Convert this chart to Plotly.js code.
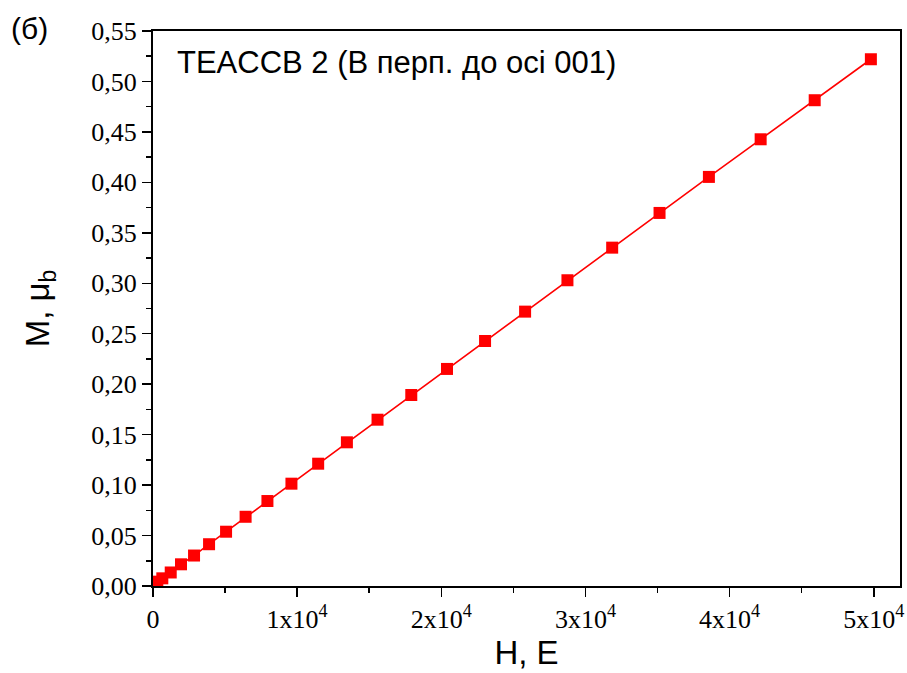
<!DOCTYPE html>
<html>
<head>
<meta charset="utf-8">
<script src="https://cdn.plot.ly/plotly-3.0.1.min.js"></script>
<style>html,body{margin:0;padding:0;background:#fff;}#chart{width:907px;height:673px;}</style>
</head>
<body>
<div id="chart"></div>
<script>
const fieldH = [300, 646, 1229, 1944, 2847, 3889, 5069, 6424, 7938, 9604, 11458, 13451, 15576, 17917, 20396, 23035, 25813, 28750, 31854, 35139, 38563, 42153, 45903, 49800];
const magM = [0.0043, 0.0076, 0.0134, 0.0215, 0.0302, 0.0414, 0.0538, 0.0686, 0.0842, 0.1014, 0.1212, 0.1424, 0.1648, 0.1893, 0.2151, 0.2428, 0.2719, 0.3030, 0.3353, 0.3697, 0.4054, 0.4427, 0.4814, 0.5220];
const xTickVals = [0, 10000, 20000, 30000, 40000, 50000];
const xTickText = ['0', '1x10<sup>4</sup>', '2x10<sup>4</sup>', '3x10<sup>4</sup>', '4x10<sup>4</sup>', '5x10<sup>4</sup>'];
const yTickVals = [0, 0.05, 0.10, 0.15, 0.20, 0.25, 0.30, 0.35, 0.40, 0.45, 0.50, 0.55];
const yTickText = ['0,00', '0,05', '0,10', '0,15', '0,20', '0,25', '0,30', '0,35', '0,40', '0,45', '0,50', '0,55'];

const trace = {
  x: fieldH, y: magM, type: 'scatter', mode: 'lines+markers',
  line: {color: '#ff0000', width: 1.6},
  marker: {symbol: 'square', size: 12, color: '#ff0000'},
  cliponaxis: false
};
const tickFont = {family: '"Liberation Serif", "Times New Roman", serif', size: 26, color: '#000'};
const sansFont = '"Liberation Sans", Arial, sans-serif';
const layout = {
  width: 907, height: 673,
  margin: {l: 153, r: 7, t: 31, b: 87},
  paper_bgcolor: '#fff', plot_bgcolor: '#fff',
  showlegend: false,
  xaxis: {
    range: [0, 51820], showgrid: false, zeroline: false,
    showline: true, linecolor: '#000', linewidth: 2, mirror: true,
    ticks: 'outside', ticklen: 9, tickwidth: 1.5, tickcolor: '#000',
    tickvals: xTickVals, ticktext: xTickText, tickfont: tickFont,
    minor: {ticks: 'outside', ticklen: 5, tickwidth: 1.5, tickcolor: '#000', dtick: 5000, tick0: 0},
    title: {text: 'H, E', font: {family: sansFont, size: 33, color: '#000'}, standoff: 4}
  },
  yaxis: {
    range: [0, 0.55], showgrid: false, zeroline: false,
    showline: true, linecolor: '#000', linewidth: 2, mirror: true,
    ticks: 'outside', ticklen: 9, tickwidth: 1.5, tickcolor: '#000',
    tickvals: yTickVals, ticktext: yTickText, tickfont: tickFont,
    minor: {ticks: 'outside', ticklen: 5, tickwidth: 1.5, tickcolor: '#000', dtick: 0.025, tick0: 0},
    title: {text: 'M, μ<sub>b</sub>', font: {family: sansFont, size: 33, color: '#000'}, standoff: 32}
  },
  annotations: [
    {text: 'TEACCB 2 (B перп. до осі 001)', xref: 'paper', yref: 'paper', x: 0.029, y: 0.944, xanchor: 'left', yanchor: 'middle', showarrow: false,
     font: {family: sansFont, size: 31, color: '#000'}},
    {text: '(б)', xref: 'paper', yref: 'paper', x: -0.193, y: 1.005, xanchor: 'left', yanchor: 'middle', showarrow: false,
     font: {family: sansFont, size: 30, color: '#000'}}
  ]
};
Plotly.newPlot('chart', [trace], layout, {displayModeBar: false, staticPlot: true});
</script>
</body>
</html>
